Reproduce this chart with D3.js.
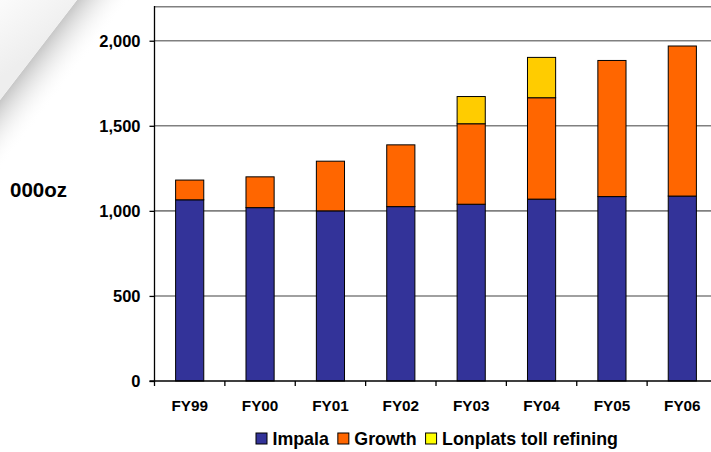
<!DOCTYPE html>
<html>
<head>
<meta charset="utf-8">
<script src="https://cdn.jsdelivr.net/npm/d3@7"></script>
<style>
  body { margin: 0; background: #fff; }
  svg { display: block; }
  text { font-family: Arial, "Liberation Sans", sans-serif; font-weight: bold; fill: #000; }
</style>
</head>
<body>
<svg width="711" height="452"></svg>
<script>
// data (000oz)
const years = ["FY99", "FY00", "FY01", "FY02", "FY03", "FY04", "FY05", "FY06"];
const impala = [1065, 1019, 1000, 1025, 1039, 1069, 1084, 1087];
const growth = [116, 181, 292, 363, 473, 596, 800, 882];
const lonplats = [0, 0, 0, 0, 160, 237, 0, 0];
const yTicks = [0, 500, 1000, 1500, 2000];
const seriesNames = ["Impala", "Growth", "Lonplats toll refining"];
const seriesColors = ["#333399", "#FF6600", "#FFCC00"];
const legendColors = ["#333399", "#FF6600", "#FFFF00"];

const svg = d3.select("svg");
const margin = { left: 154.5, top: 6.7, bottom: 381 };

// page curl decoration, top-left
const defs = svg.append("defs");
const curl = defs.append("linearGradient").attr("id", "curl")
  .attr("gradientUnits", "userSpaceOnUse")
  .attr("x1", 38).attr("y1", 50).attr("x2", 72).attr("y2", 76);
curl.append("stop").attr("offset", 0).attr("stop-color", "#b8b8b8").attr("stop-opacity", 0.8);
curl.append("stop").attr("offset", 1).attr("stop-color", "#ffffff").attr("stop-opacity", 0);
const flap = defs.append("linearGradient").attr("id", "flap")
  .attr("gradientUnits", "userSpaceOnUse")
  .attr("x1", 0).attr("y1", 0).attr("x2", 38).attr("y2", 50);
flap.append("stop").attr("offset", 0).attr("stop-color", "#fbfbfb");
flap.append("stop").attr("offset", 1).attr("stop-color", "#eeeeee");

svg.append("polygon").attr("points", "0,100 77,0 170,0 0,220").attr("fill", "url(#curl)");
svg.append("polygon").attr("points", "0,0 77,0 0,100").attr("fill", "url(#flap)");

const data = years.map((y, i) => ({
  year: y,
  Impala: impala[i],
  Growth: growth[i],
  "Lonplats toll refining": lonplats[i]
}));

const x = d3.scaleBand()
  .domain(years)
  .range([margin.left, 717.5])
  .paddingInner(0.6)
  .paddingOuter(0.3);

const y = d3.scaleLinear()
  .domain([0, 2200])
  .range([margin.bottom, margin.top]);

// gridlines + top border
svg.append("g")
  .selectAll("line")
  .data(yTicks.filter(d => d > 0).concat([2200]))
  .join("line")
  .attr("x1", margin.left).attr("x2", 711)
  .attr("y1", d => y(d)).attr("y2", d => y(d))
  .attr("stroke", "#808080")
  .attr("stroke-width", 1.6);

// stacked bars
const stack = d3.stack().keys(seriesNames)(data);
svg.append("g")
  .selectAll("g")
  .data(stack)
  .join("g")
  .attr("fill", (d, i) => seriesColors[i])
  .selectAll("rect")
  .data(d => d.filter(v => v[1] - v[0] > 0))
  .join("rect")
  .attr("x", d => x(d.data.year))
  .attr("width", x.bandwidth())
  .attr("y", d => y(d[1]))
  .attr("height", d => y(d[0]) - y(d[1]))
  .attr("stroke", "#000")
  .attr("stroke-width", 1);

// y axis
const yAxis = svg.append("g")
  .attr("transform", `translate(${margin.left},0)`)
  .call(d3.axisLeft(y).tickValues(yTicks).tickSize(5).tickPadding(9).tickFormat(d3.format(",")));
yAxis.select(".domain").attr("d", `M-5,${y(0)}H0V${margin.top - 0.7}`).attr("stroke", "#000").attr("stroke-width", 1.3);
yAxis.selectAll(".tick line").attr("stroke", "#000").attr("stroke-width", 1.3);
yAxis.selectAll(".tick text")
  .attr("font-size", 16.5)
  .attr("font-family", null)
  .attr("fill", "#000");

// x axis: line, ticks at category boundaries, labels
const step = x.step();
const bounds = years.map(d => x(d) - step * 0.3).concat([x(years[years.length - 1]) + x.bandwidth() + step * 0.3]);
const xg = svg.append("g");
xg.append("line")
  .attr("x1", margin.left).attr("x2", 711)
  .attr("y1", y(0)).attr("y2", y(0))
  .attr("stroke", "#000").attr("stroke-width", 1.5);
xg.selectAll("line.tk")
  .data(bounds)
  .join("line")
  .attr("class", "tk")
  .attr("x1", d => d).attr("x2", d => d)
  .attr("y1", y(0)).attr("y2", y(0) + 5)
  .attr("stroke", "#000").attr("stroke-width", 1.3);
xg.selectAll("text")
  .data(years)
  .join("text")
  .attr("x", d => x(d) + x.bandwidth() / 2)
  .attr("y", 410.5)
  .attr("text-anchor", "middle")
  .attr("font-size", 15.3)
  .text(d => d);

// y axis title
svg.append("text")
  .attr("x", 10)
  .attr("y", 197)
  .attr("font-size", 20.5)
  .text("000oz");

// legend
const legend = svg.append("g");
let lx = 256;
seriesNames.forEach((name, i) => {
  legend.append("rect")
    .attr("x", lx).attr("y", 433)
    .attr("width", 11).attr("height", 11)
    .attr("fill", legendColors[i])
    .attr("stroke", "#000").attr("stroke-width", 1);
  const t = legend.append("text")
    .attr("x", lx + 16.5)
    .attr("y", 444.5)
    .attr("font-size", 17.8)
    .text(name);
  lx += 16.5 + t.node().getComputedTextLength() + 9;
});
</script>
</body>
</html>
